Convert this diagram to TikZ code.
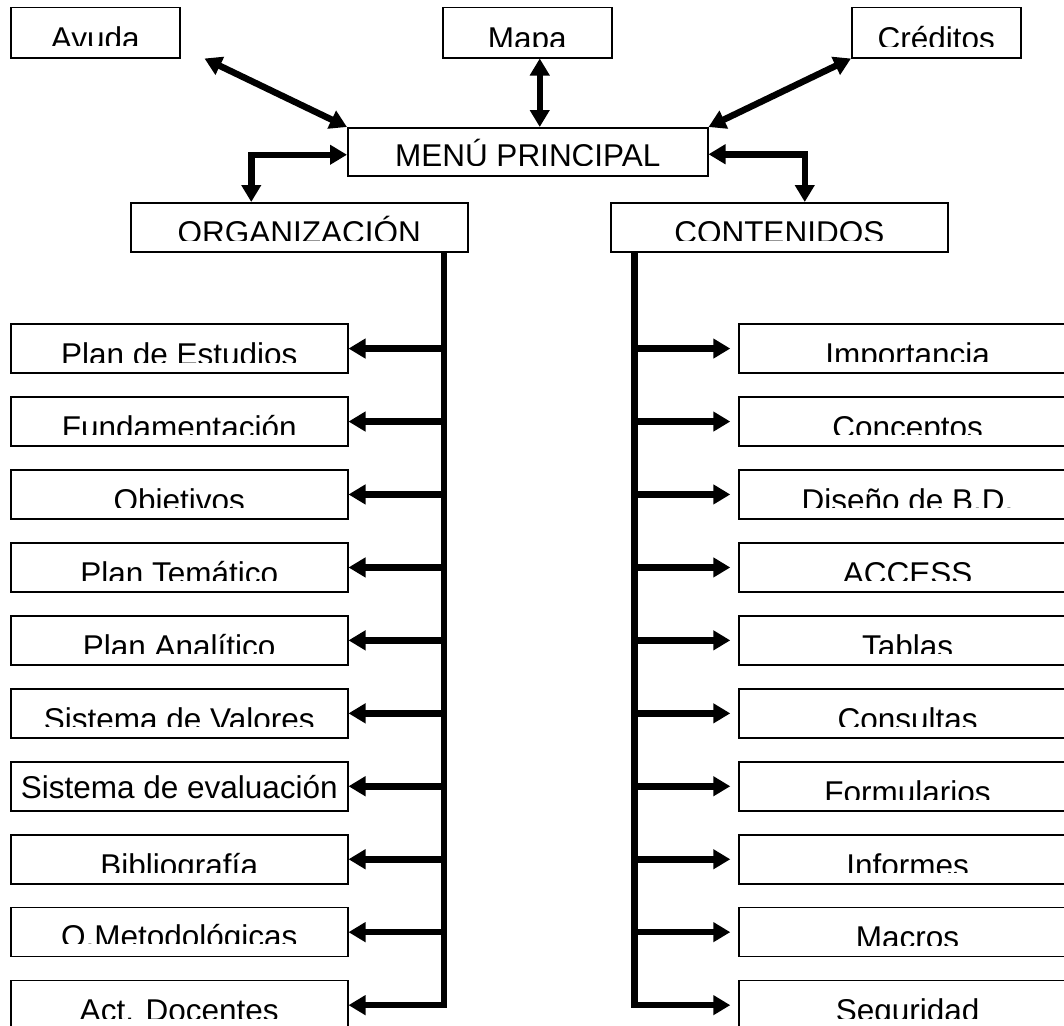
\documentclass[tikz,border=0pt]{standalone}
\usepackage{fontspec}
\setmainfont{Liberation Sans}
\usetikzlibrary{arrows.meta}
\tikzset{
  bx/.style={draw, line width=1.5pt, rectangle, inner sep=0pt, anchor=north west},
  topbox/.style={bx, minimum width=169pt, minimum height=50pt},
  rowbox/.style={bx, minimum width=337pt, minimum height=49pt},
  lbl/.style={anchor=base, inner sep=0pt, font=\fontsize{31.5}{36}\selectfont},
  arr/.style={line width=6.5pt, -{Triangle[length=17pt,width=19pt]}},
  darr/.style={line width=6.5pt, {Triangle[length=17pt,width=19pt]}-{Triangle[length=17pt,width=19pt]}},
  rarr/.style={arr, shorten >=8pt},
}
% #1 node, #2 text, #3 baseline offset from top, #4 clip offset from top
\newcommand\boxlabel[4]{%
  \begin{scope}
    \clip ([xshift=1pt,yshift=-1pt]#1.north west) rectangle ([xshift=-1pt,yshift=-#4]#1.north east);
    \node[lbl] at ([yshift=-#3]#1.north) {#2};
  \end{scope}}
\begin{document}
\begin{tikzpicture}[x=1pt,y=-1pt]
\useasboundingbox (0,0) rectangle (1064,1025);

% top row
\node[topbox] (avuda) at (10,7) {};
\node[topbox] (mapa) at (442,7) {};
\node[topbox] (cred) at (851,7) {};
\node[bx, minimum width=360pt, minimum height=48pt] (menu) at (347,127) {};
\node[rowbox] (org) at (130,202) {};
\node[rowbox] (cont) at (610,202) {};

\boxlabel{avuda}{Ayuda}{42pt}{39pt}
\boxlabel{mapa}{Mapa}{42pt}{39.5pt}
\boxlabel{cred}{Créditos}{42pt}{39.5pt}
\boxlabel{menu}{MENÚ PRINCIPAL}{39pt}{38pt}
\boxlabel{org}{ORGANIZACIÓN}{41.5pt}{38.7pt}
\boxlabel{cont}{CONTENIDOS}{41.5pt}{38.7pt}

% left column
\node[rowbox] (l1) at (10,323.3) {};
\node[rowbox] (l2) at (10,396.3) {};
\node[rowbox] (l3) at (10,469.2) {};
\node[rowbox] (l4) at (10,542.2) {};
\node[rowbox] (l5) at (10,615.1) {};
\node[rowbox] (l6) at (10,688.1) {};
\node[rowbox] (l7) at (10,761.0) {};
\node[rowbox] (l8) at (10,834.0) {};
\node[rowbox] (l9) at (10,906.9) {};
\node[rowbox] (l10) at (10,979.9) {};

\boxlabel{l1}{Plan de Estudios}{42pt}{38.7pt}
\boxlabel{l2}{Fundamentación}{42pt}{38.5pt}
\boxlabel{l3}{Objetivos}{42pt}{38.5pt}
\boxlabel{l4}{Plan Temático}{42pt}{38.5pt}
\boxlabel{l5}{Plan Analítico}{42pt}{38.5pt}
\boxlabel{l6}{Sistema de Valores}{42pt}{38.5pt}
\boxlabel{l7}{Sistema de evaluación}{37pt}{47pt}
\boxlabel{l8}{Bibliografía}{42pt}{38.5pt}
\boxlabel{l9}{O.Metodológicas}{40.5pt}{37pt}
\boxlabel{l10}{Act. Docentes}{42pt}{38.5pt}

% right column
\node[rowbox] (r1) at (738.3,323.3) {};
\node[rowbox] (r2) at (738.3,396.3) {};
\node[rowbox] (r3) at (738.3,469.2) {};
\node[rowbox] (r4) at (738.3,542.2) {};
\node[rowbox] (r5) at (738.3,615.1) {};
\node[rowbox] (r6) at (738.3,688.1) {};
\node[rowbox] (r7) at (738.3,761.0) {};
\node[rowbox] (r8) at (738.3,834.0) {};
\node[rowbox] (r9) at (738.3,906.9) {};
\node[rowbox] (r10) at (738.3,979.9) {};

\boxlabel{r1}{Importancia}{42pt}{38.5pt}
\boxlabel{r2}{Conceptos}{42pt}{38.5pt}
\boxlabel{r3}{Diseño de B.D.}{42pt}{38.5pt}
\boxlabel{r4}{ACCESS}{42pt}{38.5pt}
\boxlabel{r5}{Tablas}{42pt}{38.5pt}
\boxlabel{r6}{Consultas}{42pt}{38.5pt}
\boxlabel{r7}{Formularios}{42pt}{38.5pt}
\boxlabel{r8}{Informes}{42pt}{38.5pt}
\boxlabel{r9}{Macros}{42pt}{38.5pt}
\boxlabel{r10}{Seguridad}{42pt}{38.5pt}

% top connectors
\coordinate (avtail) at ([xshift=24pt]avuda.south east);
\draw[darr] (avtail) -- (menu.north west);
\coordinate (mp) at ([xshift=12.5pt]mapa.south);
\draw[darr] (mp) -- (mp |- menu.north);
\draw[darr] (menu.north east) -- (cred.south west);
\draw[darr] ([yshift=-3pt]menu.west) -| ([xshift=-48pt]org.north);
\draw[darr] ([yshift=-2.5pt]menu.east) -| ([xshift=25.5pt]cont.north);

% trunks and branches
\coordinate (lt) at ([xshift=-24.5pt]org.south east);
\coordinate (rt) at ([xshift=24.5pt]cont.south west);
\draw[arr] (lt) |- (l10.east);
\draw[rarr] (rt) |- (r10.west);
\foreach \i in {1,...,9}{
  \draw[arr] (lt |- l\i.east) -- (l\i.east);
  \draw[rarr] (rt |- r\i.west) -- (r\i.west);
}
\end{tikzpicture}
\end{document}
